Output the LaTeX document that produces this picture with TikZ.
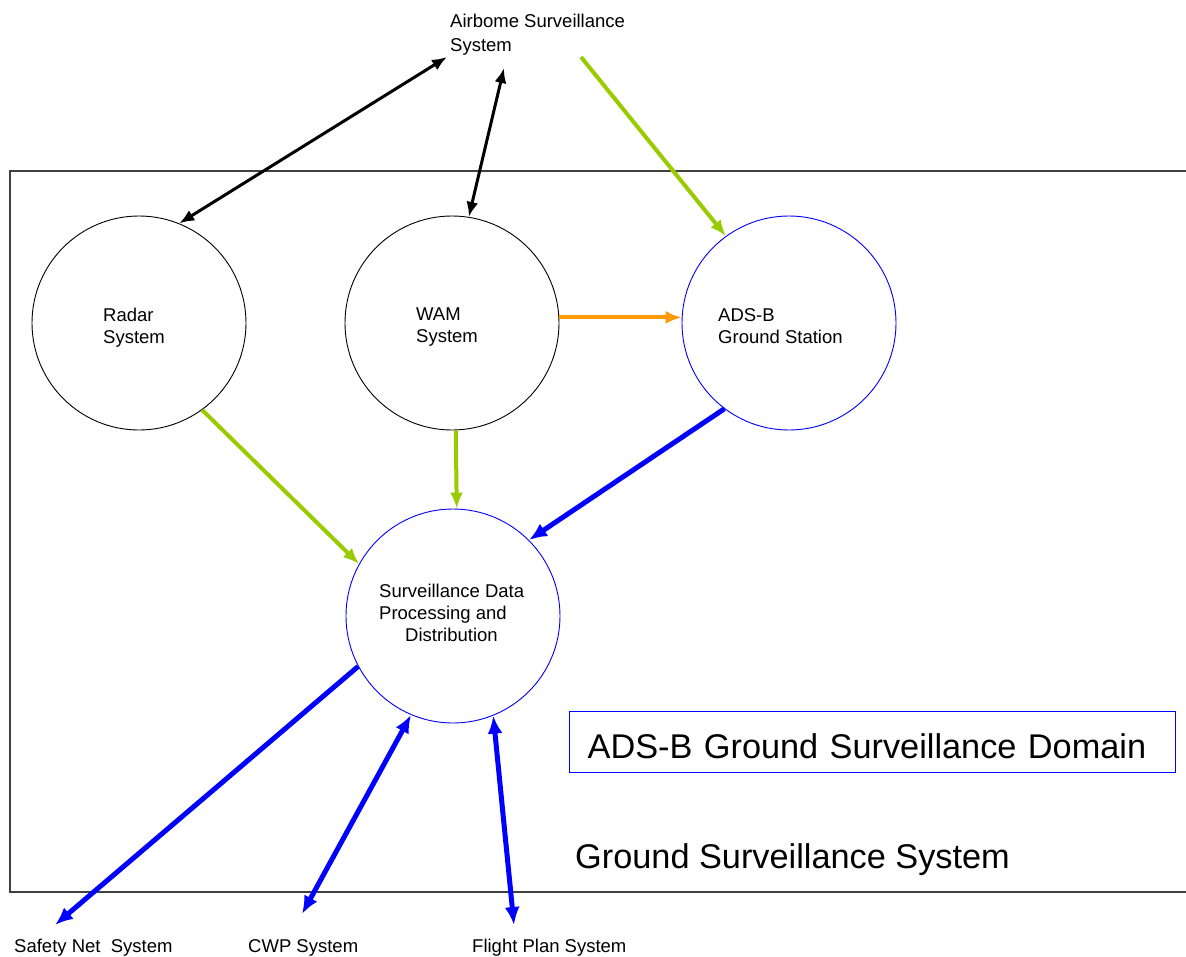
\documentclass[tikz,border=0pt]{standalone}
\usepackage{fontspec}
\setmainfont{Liberation Sans}
\usetikzlibrary{arrows.meta}
\definecolor{lgreen}{RGB}{153,204,0}
\definecolor{orng}{RGB}{255,153,0}
\definecolor{blu}{RGB}{0,0,255}
\definecolor{framegray}{RGB}{64,64,64}
\begin{document}
\begin{tikzpicture}[x=1pt,y=-1pt,
  sys/.style={circle,draw=black,line width=0.9pt,minimum size=214pt,inner sep=0pt},
  bsys/.style={sys,draw=blu},
  lbl/.style={font=\fontsize{18.5}{22}\selectfont,align=left,inner sep=0pt,anchor=north west},
  ext/.style={font=\fontsize{18.5}{22}\selectfont,inner sep=0pt,anchor=base west},
  big/.style={font=\fontsize{34.3}{40}\selectfont,inner sep=0pt,anchor=base west},
  blk/.style={{Latex[length=15pt,width=12pt]}-{Latex[length=15pt,width=12pt]},line width=3pt,black},
  grn/.style={-{Latex[length=16pt,width=13pt]},line width=4pt,lgreen},
  org/.style={-{Latex[length=16pt,width=13pt]},line width=4pt,orng},
  bl/.style={-{Latex[length=18pt,width=15pt]},line width=5pt,blu},
  bld/.style={{Latex[length=18pt,width=15pt]}-{Latex[length=18pt,width=15pt]},line width=5pt,blu}
]
\useasboundingbox (0,0) rectangle (1186,956);
% frame of ground surveillance system (right side open)
\draw[framegray,line width=1.5pt] (1186,171) -- (10,171) -- (10,892) -- (1186,892);

% circles
\node[sys] (radar) at (139,323) {};
\node[sys] (wam) at (452,323) {};
\node[bsys] (adsb) at (789,323) {};
\node[bsys] (sdp) at (453,616) {};

% circle labels
\node[lbl] (radarL) at (103,307.6) {Radar\\System};
\node[lbl] (wamL) at (416,307.6) {WAM\\System};
\node[lbl] (adsbL) at (718,308.6) {ADS-B\\Ground Station};
\node[lbl] (sdpL) at (379,583.6) {Surveillance Data\\Processing and\\\hspace*{26pt}Distribution};

% external labels
\node[lbl,font=\fontsize{18.5}{24}\selectfont] (air) at (450,14) {Airbome Surveillance\\System};
\node[ext] (safety) at (14,952) {Safety Net\ \ System};
\node[ext] (cwp) at (248,952) {CWP System};
\node[ext] (fps) at (472,952) {Flight Plan System};

% domain box and system title
\node[draw=blu,line width=1.3pt,anchor=north west,inner xsep=18pt,inner ysep=0pt,
      text width=570pt,text height=47pt,text depth=14pt,align=left,
      font=\fontsize{34.3}{40}\selectfont] (dom) at (569,711) {ADS-B Ground Surveillance Domain};
\node[big] (gss) at (575,868) {Ground Surveillance System};

% connector end points near external labels
\coordinate (airA) at (447,57);
\coordinate (airB) at (504,68);
\coordinate (airC) at (581,57);
\coordinate (safetyP) at (55,925);
\coordinate (cwpP) at (302,914);
\coordinate (fpsP) at (514,925);

% connectors
\draw[blk] (airA) -- (radar.68);
\draw[blk] (airB) -- (wam.81);
\draw[grn] (airC) -- (adsb.126);
\draw[org] (wam.3) -- (adsb.177);
\draw[grn] (radar.-54) -- (sdp.151);
\draw[grn] (wam.-88) -- (sdp.88);
\draw[bl] (adsb.-127) -- (sdp.45);
\draw[bl] (sdp.-152) -- (safetyP);
\draw[bld] (sdp.-113) -- (cwpP);
\draw[bld] (sdp.-68) -- (fpsP);
\end{tikzpicture}
\end{document}
